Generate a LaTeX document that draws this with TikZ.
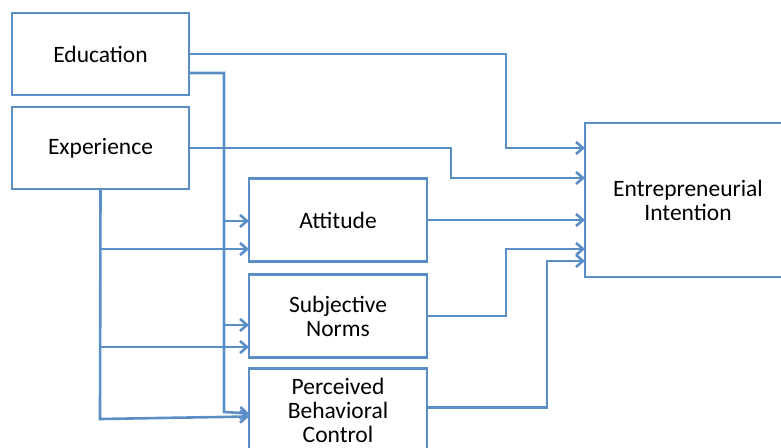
\documentclass[tikz,border=0pt]{standalone}
\usepackage{fontspec}
\setmainfont{Carlito}
\usetikzlibrary{positioning,arrows.meta}
\definecolor{cB}{RGB}{91,141,199}
\tikzset{mybox/.style={
  shape=rectangle,
  draw=cB,
  line width=2.6pt,
  fill=white,
  align=center,
  outer sep=0pt,
  minimum width=177pt,
  minimum height=82pt,
  font=\fontsize{23.5}{24}\selectfont,
  text = black,
  }
}
\tikzset{mylink/.style={
  draw=cB,
  line width=2.6pt,
  -{Straight Barb[length=7pt,width=12pt]},
  }
}

\begin{document}
\begin{tikzpicture}[x=1pt,y=-1pt]
      \useasboundingbox (0,0) rectangle (781,447);
      \node [mybox] (edu) at (100.5,54) {Education};
      \node [mybox, below=12pt of edu] (exp) {Experience};
      \node [mybox, minimum width=178pt, minimum height=83pt] (att) at (338,220) {Attitude};
      \node [mybox, minimum width=178pt, minimum height=83pt, below=13pt of att] (sn) {Subjective\\Norms};
      \node [mybox, minimum width=178pt, minimum height=84pt, below=11pt of sn] (pbc) {Perceived\\Behavioral\\Control};
      \node [mybox, minimum width=206pt, minimum height=154pt] (ei) at (688,200) {Entrepreneurial\\Intention};

      \coordinate (ebA) at (224,221);
      \coordinate (ebB) at (224,325);
      \coordinate (xbA) at (100,249);
      \coordinate (xbB) at (100,347);

      \draw [mylink] (edu.east) -- (506,54) |- ([yshift=-25pt]ei.north west);
      \draw [mylink] ([yshift=-19pt]edu.east) -| (224,412) -- ([yshift=-3pt]pbc.west);
      \draw [mylink] (ebA) -- ([yshift=-1pt]att.west);
      \draw [mylink] (ebB) -- ([yshift=-9pt]sn.west);

      \draw [mylink] (exp.east) -- (451,148) |- ([yshift=-55pt]ei.north west);
      \draw [mylink] (exp.south) -- (100,419) -- ([yshift=-6pt]pbc.west);
      \draw [mylink] (xbA) -- ([yshift=-29pt]att.west);
      \draw [mylink] (xbB) -- ([yshift=-31pt]sn.west);

      \draw [mylink] (att.east) -- (ei.west |- att.east);
      \draw [mylink] (sn.east) -- (506,316) |- ([yshift=-126pt]ei.north west);
      \draw [mylink] ([yshift=3pt]pbc.east) -- (547,407.5) |- ([yshift=-138pt]ei.north west);
    \end{tikzpicture}
\end{document}
